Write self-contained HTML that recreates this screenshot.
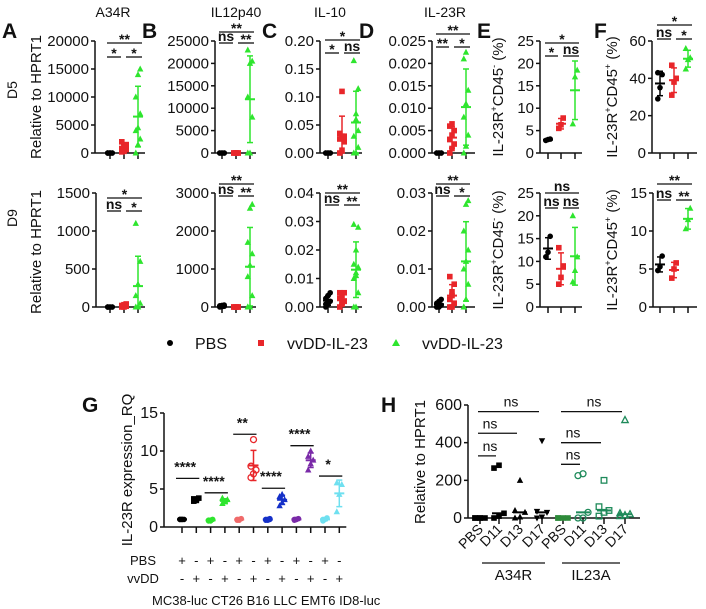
<!DOCTYPE html>
<html><head><meta charset="utf-8">
<style>
html,body{margin:0;padding:0;background:#fff;}
svg{display:block;font-family:"Liberation Sans",Arial,sans-serif;}
</style></head>
<body>
<svg id="fig" width="706" height="609" viewBox="0 0 706 609" xmlns="http://www.w3.org/2000/svg">
<g font-size="14" text-anchor="middle" fill="#111">
<text x="113" y="17">A34R</text>
<text x="236" y="17">IL12p40</text>
<text x="330" y="17">IL-10</text>
<text x="445" y="17">IL-23R</text>
</g>
<g font-size="21" font-weight="bold" fill="#111">
<text x="2" y="38">A</text>
<text x="142" y="38">B</text>
<text x="262" y="38">C</text>
<text x="359" y="38">D</text>
<text x="477" y="38">E</text>
<text x="594" y="38">F</text>
<text x="82" y="412">G</text>
<text x="381" y="412">H</text>
</g>
<g font-size="14" fill="#111" text-anchor="middle">
<text transform="translate(17,90) rotate(-90)">D5</text>
<text transform="translate(17,218) rotate(-90)">D9</text>
<text transform="translate(41,97) rotate(-90)" font-size="15">Relative to HPRT1</text>
<text transform="translate(41,252) rotate(-90)" font-size="15">Relative to HPRT1</text>
<text transform="translate(503,97) rotate(-90)" font-size="15">IL-23R<tspan font-size="9" dy="-6">+</tspan><tspan dy="6">CD45</tspan><tspan font-size="9" dy="-6">-</tspan><tspan dy="6"> (%)</tspan></text>
<text transform="translate(503,250) rotate(-90)" font-size="15">IL-23R<tspan font-size="9" dy="-6">+</tspan><tspan dy="6">CD45</tspan><tspan font-size="9" dy="-6">-</tspan><tspan dy="6"> (%)</tspan></text>
<text transform="translate(617,97) rotate(-90)" font-size="15">IL-23R<tspan font-size="9" dy="-6">+</tspan><tspan dy="6">CD45</tspan><tspan font-size="9" dy="-6">+</tspan><tspan dy="6"> (%)</tspan></text>
<text transform="translate(617,250) rotate(-90)" font-size="15">IL-23R<tspan font-size="9" dy="-6">+</tspan><tspan dy="6">CD45</tspan><tspan font-size="9" dy="-6">+</tspan><tspan dy="6"> (%)</tspan></text>
<text transform="translate(132,470) rotate(-90)" font-size="15">IL-23R expression_RQ</text>
<text transform="translate(425,462) rotate(-90)" font-size="15">Relative to HPRT1</text>
</g>
<g font-size="16" fill="#111">
<circle cx="170" cy="343" r="3" fill="#000"/>
<text x="195" y="349">PBS</text>
<rect x="258" y="340" width="6" height="6" fill="#e8262a"/>
<text x="287" y="349">vvDD-IL-23</text>
<polygon points="396,339 400,346 392,346" fill="#2ee52e"/>
<text x="422" y="349">vvDD-IL-23</text>
</g>
<g id="plots"></g>
</svg>
<script>
// ---------- Data: panels A-F (groups: PBS, red, green) ----------
const a1Ticks=[0,5000,10000,15000,20000];
const a1Pbs=[0,0,0,0,0,0,0,0];
const a1Red=[200,400,600,800,1000,1500,2000,300];
const a1Green=[0,1500,2500,4000,4500,7000,10000,14000,15000];
const b1Ticks=[0,5000,10000,15000,20000,25000];
const b1Pbs=[0,0,0,0,0,0];
const b1Red=[0,0,0,0,0,0];
const b1Green=[0,0,8000,12500,20000,20500,23000];
const c1Ticks=[0,0.05,0.10,0.15,0.20];
const c1Pbs=[0,0,0,0,0,0];
const c1Red=[0,0.005,0.02,0.025,0.03,0.03,0.035,0.11];
const c1Green=[0,0,0.01,0.03,0.06,0.115,0.165,0.07,0.04];
const d1Ticks=[0,0.005,0.010,0.015,0.020,0.025];
const d1Pbs=[0,0,0,0,0,0];
const d1Red=[0,0.001,0.002,0.003,0.004,0.005,0.006,0.0065];
const d1Green=[0,0.0015,0.004,0.008,0.011,0.014,0.021,0.0225];
const e1Ticks=[0,5,10,15,20,25];
const e1Pbs=[2.8,3.0,3.1];
const e1Red=[5.5,6.3,7.8];
const e1Green=[6.5,17,18.5];
const f1Ticks=[0,20,40,60];
const f1Pbs=[29,35,42,43];
const f1Red=[31,38,40,47];
const f1Green=[45,50,51,56];
const a2Ticks=[0,500,1000,1500];
const a2Pbs=[0,0,0,0,0,0,0];
const a2Red=[0,0,10,20,30,40];
const a2Green=[0,0,50,150,300,600,1100,0];
const b2Ticks=[0,1000,2000,3000];
const b2Pbs=[0,10,20,30,40,50];
const b2Red=[0,0,0,0,0,0];
const b2Green=[0,0,300,800,1100,1400,1700,2600,2700,0];
const c2Ticks=[0,0.01,0.02,0.03,0.04];
const c2Pbs=[0,0.001,0.002,0.003,0.004,0.005,0.001,0.002];
const c2Red=[0,0.001,0.002,0.003,0.004,0.005,0.005,0.002];
const c2Green=[0,0,0.005,0.01,0.012,0.014,0.015,0.02,0.028,0.029,0.011];
const d2Ticks=[0,0.01,0.02,0.03];
const d2Pbs=[0,0,0.0005,0.001,0.0015,0.002,0];
const d2Red=[0,0,0.001,0.002,0.004,0.006,0.008,0.003];
const d2Green=[0,0.002,0.006,0.01,0.012,0.015,0.02,0.027,0.028,0];
const e2Ticks=[0,5,10,15,20,25];
const e2Pbs=[11,12,15.5];
const e2Red=[5,6.5,9,13];
const e2Green=[5.5,8,11,20];
const f2Ticks=[0,5,10,15];
const f2Pbs=[4.8,5.3,6.7];
const f2Red=[3.8,5,5.8];
const f2Green=[10.3,11.5,13];
// ---------- Data: panel G ----------
const gCategories=["MC38-luc","CT26","B16","LLC","EMT6","ID8-luc"];
const gTicks=[0,5,10,15];
const gPbsValues=[[1,1,1,1,1],[0.8,0.9,1,0.9,0.8],[0.9,1,1.1,1,0.9],[0.9,1,1.1,1,0.9,1],[0.9,1,1.1,1,1],[0.8,1,1.2,1]];
const gVvddValues=[[3.4,3.6,3.8,3.7,3.5],[3.1,3.4,3.6,3.8,3.3],[6.5,7,7.5,8,11.5],[2.8,3.2,3.6,4,4.3],[7.5,8.3,8.8,9.3,10],[2,4.3,5.6,5.8]];
const gSigLevels=[6.4,4.5,12.2,5.1,10.7,6.7];
const gSigLabels=["****","****","**","****","****","*"];
// ---------- Data: panel H ----------
const hCategories=["PBS","D11","D13","D17","PBS","D11","D13","D17"];
const hTicks=[0,200,400,600];
const hValues=[[0,0,0,0,0],[0,10,25,265,280],[0,5,30,40,200],[0,5,30,35,410],[0,0,0,0],[0,0,30,225,235],[10,30,40,60,200],[10,15,20,25,520]];
const hSigLevels=[330,450,565,285,400,565];

const NS='http://www.w3.org/2000/svg';
const root=document.getElementById('plots');
function mk(tag,parent,attrs){const e=document.createElementNS(NS,tag);for(const k in attrs)e.setAttribute(k,attrs[k]);(parent||root).appendChild(e);return e;}
function mean(a){return a.reduce((s,v)=>s+v,0)/a.length;}
function sd(a){const m=mean(a);return Math.sqrt(a.reduce((s,v)=>s+(v-m)*(v-m),0)/Math.max(1,a.length-1));}
function fmt(v,dec){return dec?v.toFixed(dec):String(v);}

function marker(g,shape,x,y,color,hollow){
  let e;
  if(shape==='circle'){e=mk('circle',g,{cx:x,cy:y,r:hollow?3:2.8});}
  else if(shape==='square'){e=mk('rect',g,{x:x-2.8,y:y-2.8,width:5.6,height:5.6});}
  else if(shape==='tri'){e=mk('polygon',g,{points:`${x},${y-3.5} ${x+3.2},${y+2.5} ${x-3.2},${y+2.5}`});}
  else {e=mk('polygon',g,{points:`${x},${y+3.5} ${x+3.2},${y-2.5} ${x-3.2},${y-2.5}`});}
  if(hollow){e.setAttribute('fill','none');e.setAttribute('stroke',color);e.setAttribute('stroke-width','1.3');}
  else e.setAttribute('fill',color);
  
  
}

function yAxis(g,ax,y0,ytop,ticks,dec,fs){
  const max=ticks[ticks.length-1];
  const ys=v=>y0-(v/max)*(y0-ytop);
  const l=mk('line',g,{x1:ax,y1:y0,x2:ax,y2:ytop,stroke:'#111','stroke-width':1.5});
  
  
  ticks.forEach(t=>{
    const tk=mk('line',g,{x1:ax-4,y1:ys(t),x2:ax,y2:ys(t),stroke:'#111','stroke-width':1.5});
    
    
    const tx=mk('text',g,{x:ax-6,y:ys(t)+5,'text-anchor':'end','font-size':fs||15,fill:'#111'});
    tx.textContent=fmt(t,dec);
    
    
  });
  return ys;
}
function xAxis(g,ax,end,y0,xs){
  const l=mk('line',g,{x1:ax,y1:y0,x2:end,y2:y0,stroke:'#111','stroke-width':1.5});
  
  
  xs.forEach(x=>{
    const tk=mk('line',g,{x1:x,y1:y0,x2:x,y2:y0+6,stroke:'#111','stroke-width':1.5});
    
    
  });
}
function sigBar(g,x1,x2,y,label){
  const l=mk('line',g,{x1:x1,y1:y,x2:x2,y2:y,stroke:'#111','stroke-width':1.3});
  
  
  const t=mk('text',g,{x:(x1+x2)/2,y:label==='ns'?y-2:y+1,'text-anchor':'middle','font-size':14,'font-weight':'bold',fill:'#111'});
  t.textContent=label;
  
  
}
function errBar(g,x,ys,vals,color,hw){
  const m=mean(vals),s=sd(vals);
  const lo=Math.max(0,m-s),hi=m+s;
  const v=mk('line',g,{x1:x,y1:ys(lo),x2:x,y2:ys(hi),stroke:color,'stroke-width':1.5});
  
  
  [lo,hi].forEach(val=>{const c=mk('line',g,{x1:x-3,y1:ys(val),x2:x+3,y2:ys(val),stroke:color,'stroke-width':1.5});
    
    });
  const ml=mk('line',g,{x1:x-(hw||5),y1:ys(m),x2:x+(hw||5),y2:ys(m),stroke:color,'stroke-width':2});
  
  
}

const COLORS=['#000','#e8262a','#2ee52e'];
const SHAPES=['circle','square','tri'];
function panel(name,ax,end,xs,y0,ytop,ticks,dec,groups,sig){
  const g=mk('g',root,{});
  
  
  const ys=yAxis(g,ax,y0,ytop,ticks,dec);
  xAxis(g,ax,end,y0,xs);
  groups.forEach((vals,i)=>{
    errBar(g,xs[i],ys,vals,COLORS[i]);
    vals.forEach((v,j)=>marker(g,SHAPES[i],xs[i]+((j%3)-1)*2.2,ys(v),COLORS[i]));
  });
  sigBar(g,xs[0]-3,xs[2]+4,sig[0],sig[2]);
  sigBar(g,xs[0]-3,xs[1]-3,sig[1],sig[3]);
  sigBar(g,xs[1]+2,xs[2]+4,sig[1],sig[4]);
}
const R1=[153,41],R2=[307,193];
panel('panel-a-d5',95,145,[110,124,138],R1[0],R1[1],a1Ticks,0,[a1Pbs,a1Red,a1Green],[43,57,'**','*','*']);
panel('panel-b-d5',215,256,[222,236,250],R1[0],R1[1],b1Ticks,0,[b1Pbs,b1Red,b1Green],[32,43,'**','ns','**']);
panel('panel-c-d5',320,362,[328,342,356],R1[0],R1[1],c1Ticks,2,[c1Pbs,c1Red,c1Green],[40,53,'*','*','ns']);
panel('panel-d-d5',432,475,[439,452,466],R1[0],R1[1],d1Ticks,3,[d1Pbs,d1Red,d1Green],[34,47,'**','**','*']);
panel('panel-e-d5',540,582,[548,561,575],R1[0],R1[1],e1Ticks,0,[e1Pbs,e1Red,e1Green],[43,56,'*','*','ns']);
panel('panel-f-d5',652,697,[660,674,688],R1[0],R1[1],f1Ticks,0,[f1Pbs,f1Red,f1Green],[25,39,'*','ns','*']);
panel('panel-a-d9',96,145,[110,124,138],R2[0],R2[1],a2Ticks,0,[a2Pbs,a2Red,a2Green],[198,211,'*','ns','*']);
panel('panel-b-d9',215,256,[222,236,250],R2[0],R2[1],b2Ticks,0,[b2Pbs,b2Red,b2Green],[184,196,'**','ns','**']);
panel('panel-c-d9',320,362,[328,342,356],R2[0],R2[1],c2Ticks,2,[c2Pbs,c2Red,c2Green],[193,205,'**','ns','**']);
panel('panel-d-d9',432,475,[439,452,466],R2[0],R2[1],d2Ticks,2,[d2Pbs,d2Red,d2Green],[184,196,'**','ns','*']);
panel('panel-e-d9',540,582,[548,561,575],R2[0],R2[1],e2Ticks,0,[e2Pbs,e2Red,e2Green],[193,208,'ns','ns','ns']);
panel('panel-f-d9',653,697,[660,674,688],R2[0],R2[1],f2Ticks,0,[f2Pbs,f2Red,f2Green],[184,200,'**','ns','**']);

// ---------- Panel G ----------
(function(){
  const g=mk('g',root,{});
  
  
  const ax=164,y0=527,ytop=413,x0=182,step=14.3;
  const ys=yAxis(g,ax,y0,ytop,gTicks,0,16);
  const xs=[];for(let i=0;i<gCategories.length*2;i++)xs.push(x0+i*step);
  xAxis(g,ax,xs[xs.length-1]+7,y0,xs);
  const pbsCol=['#000','#2ee52e','#f06a6a','#1530c8','#7a2aa8','#6fe0f0'];
  const vvCol=['#000','#2ee52e','#e8262a','#1530c8','#7a2aa8','#6fe0f0'];
  const vvShape=['square','tri','circle','tri','tri','tri'];
  gCategories.forEach((c,i)=>{
    const xp=xs[2*i],xv=xs[2*i+1];
    errBar(g,xp,ys,gPbsValues[i],pbsCol[i],5);
    gPbsValues[i].forEach((v,j)=>marker(g,'circle',xp+((j%3)-1)*2,ys(v),pbsCol[i]));
    errBar(g,xv,ys,gVvddValues[i],vvCol[i],5);
    gVvddValues[i].forEach((v,j)=>marker(g,vvShape[i],xv+((j%3)-1)*2.5,ys(v),vvCol[i],i===2));
    const by=ys(gSigLevels[i]);
    const l=mk('line',g,{x1:xp-6,y1:by,x2:xv+3,y2:by,stroke:'#111','stroke-width':1.3});
    
    
    const t=mk('text',g,{x:(xp+xv)/2-4,y:by-7,'text-anchor':'middle','font-size':14,'font-weight':'bold',fill:'#111'});
    t.textContent=gSigLabels[i];
    
    
    [[xp,'+','-'],[xv,'-','+']].forEach(([x,a,b])=>{
      const t1=mk('text',g,{x:x,y:565,'text-anchor':'middle','font-size':13,fill:'#111'});t1.textContent=a;
      
      
      const t2=mk('text',g,{x:x,y:583,'text-anchor':'middle','font-size':13,fill:'#111'});t2.textContent=b;
      
      
    });
  });
  const p=mk('text',g,{x:143,y:565,'text-anchor':'middle','font-size':13,fill:'#111'});p.textContent='PBS';
  
  
  const v=mk('text',g,{x:143,y:583,'text-anchor':'middle','font-size':13,fill:'#111'});v.textContent='vvDD';
  
  
  const cl=mk('text',g,{x:152,y:605,'font-size':13,fill:'#111'});cl.textContent=gCategories.join(' ');
  
  
})();

// ---------- Panel H ----------
(function(){
  const g=mk('g',root,{});
  
  
  const ax=468,y0=518,ytop=405;
  const ys=yAxis(g,ax,y0,ytop,hTicks,0,16);
  const xs=[480,499,520,542,563,583,604,625];
  xAxis(g,ax,640,y0,xs);
  const shp=['square','square','tri','itri','square','circle','square','tri'];
  hValues.forEach((vals,i)=>{
    const green=i>=4, col=green?(i===4?'#2e8b3a':'#1e8a5a'):'#000';
    const sorted=[...vals].sort((a,b)=>a-b);const med=sorted[Math.floor(sorted.length/2)];
    const ml=mk('line',g,{x1:xs[i]-7,y1:ys(med),x2:xs[i]+7,y2:ys(med),stroke:col,'stroke-width':2});
    
    
    vals.forEach((v,j)=>marker(g,shp[i],xs[i]+((j%3)-1)*5,ys(v),col,green&&i>4));
    const lab=mk('text',g,{transform:`translate(${xs[i]+4},${y0+12}) rotate(-45)`,'text-anchor':'end','font-size':14,fill:'#111'});
    lab.textContent=hCategories[i];
    
    
  });
  [[0,1],[0,2],[0,3],[4,5],[4,6],[4,7]].forEach(([a,b],k)=>{
    const y=ys(hSigLevels[k]);
    const l=mk('line',g,{x1:xs[a]-2,y1:y,x2:xs[b]-3,y2:y,stroke:'#111','stroke-width':1.3});
    
    
    const t=mk('text',g,{x:k%3===2?(xs[a]+xs[b])/2:xs[a]+10,y:y-5,'text-anchor':'middle','font-size':14,fill:'#111'});
    t.textContent='ns';
    
    
  });
  [[482,545,'A34R'],[562,620,'IL23A']].forEach(([a,b,s])=>{
    const l=mk('line',g,{x1:a,y1:563,x2:b,y2:563,stroke:'#111','stroke-width':1.3});
    
    
    const t=mk('text',g,{x:(a+b)/2,y:580,'text-anchor':'middle','font-size':15,fill:'#111'});t.textContent=s;
    
    
  });
})();
</script>
</body></html>
